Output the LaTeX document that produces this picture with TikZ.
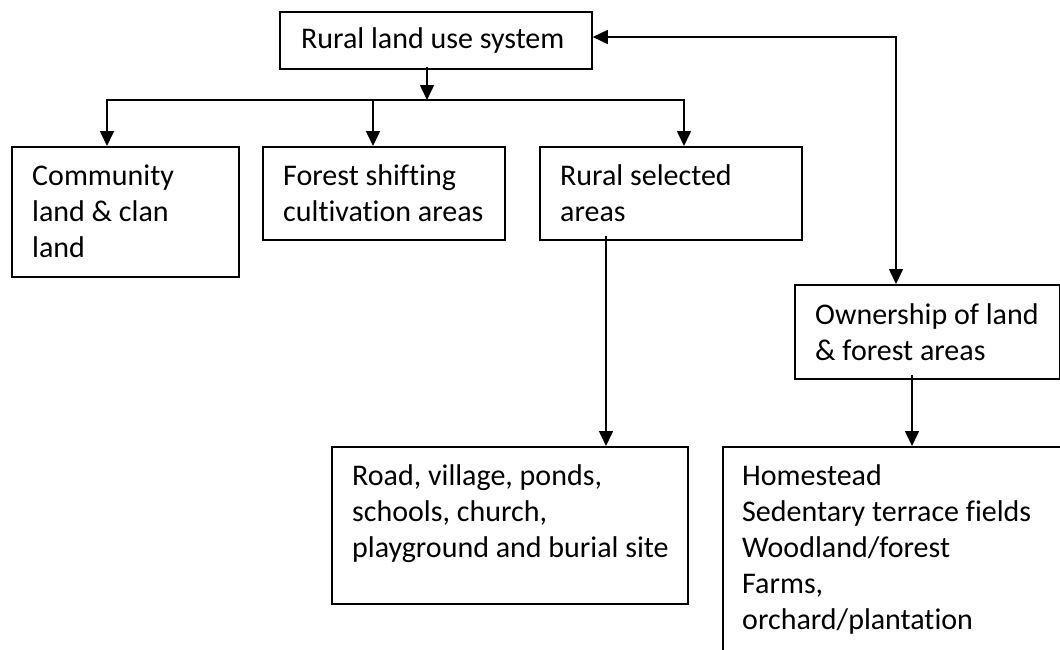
\documentclass[tikz,border=0pt]{standalone}
\usepackage{fontspec}
\setmainfont{Carlito}[Ligatures=NoCommon]
\usetikzlibrary{arrows.meta}
\begin{document}
\begin{tikzpicture}[x=1pt,y=-1pt,
  box/.style={draw,line width=1.8pt,rectangle,inner sep=0pt,anchor=north west},
  txt/.style={anchor=base west,inner sep=0pt,align=left,text width=330pt,
    font=\fontsize{30}{36}\selectfont,execute at begin node={\spaceskip=0pt\xspaceskip=0pt\relax}},
  conn/.style={line width=1.6pt},
  arr/.style={conn,-{Triangle[length=15pt,width=14pt]}},
  darr/.style={conn,{Triangle[length=15pt,width=14pt]}-{Triangle[length=15pt,width=14pt]}}]
\clip (0,0) rectangle (1060,649);
\fill[white] (0,0) rectangle (1060,649);
% boxes
\node[box,minimum width=312pt,minimum height=57pt] (top) at (279,11) {};
\node[box,minimum width=227pt,minimum height=130pt] (comm) at (11,146) {};
\node[box,minimum width=242pt,minimum height=93pt] (forest) at (262,146) {};
\node[box,minimum width=262pt,minimum height=93pt] (rsel) at (539,146) {};
\node[box,minimum width=356pt,minimum height=157pt] (road) at (331,446) {};
\node[box,minimum width=265pt,minimum height=94pt] (own) at (794,284) {};
\node[box,minimum width=380pt,minimum height=260pt] (home) at (722,446) {};
% texts
\node[txt] (ttop) at (301,48) {Rural land use system};
\node[txt] (tcomm) at (32,185) {Community\\land \& clan\\land};
\node[txt] (tforest) at (283,185) {Forest shifting\\cultivation areas};
\node[txt] (trsel) at (560,185) {Rural selected\\areas};
\node[txt] (troad) at (352,485) {Road, village, ponds,\\schools, church,\\playground and burial site};
\node[txt] (town) at (815,324) {Ownership of land\\\& forest areas};
\node[txt] (thome) at (742,485) {Homestead\\Sedentary terrace fields\\Woodland/forest\\Farms,\\orchard/plantation};
% coordinates
\coordinate (busL) at (107,100);
\coordinate (busM) at (373,100);
\coordinate (busR) at (684,100);
\coordinate (busT) at (427,100);
\coordinate (cdown) at (606,0);
\coordinate (bend) at (896,37);
\coordinate (odown) at (912,0);
% connectors
\draw[arr] (top.south -| busT) ++(0,-3) -- (busT);
\draw[darr] (busL |- comm.north) -- (busL) -- (busR) -- (busR |- rsel.north);
\draw[arr] (busM) -- (busM |- forest.north);
\draw[arr] (rsel.south -| cdown) ++(0,-5) -- (cdown |- road.north);
\draw[darr] (top.east |- bend) -- (bend) -- (bend |- own.north);
\draw[arr] (own.south -| odown) ++(0,-5) -- (odown |- home.north);
\end{tikzpicture}
\end{document}
